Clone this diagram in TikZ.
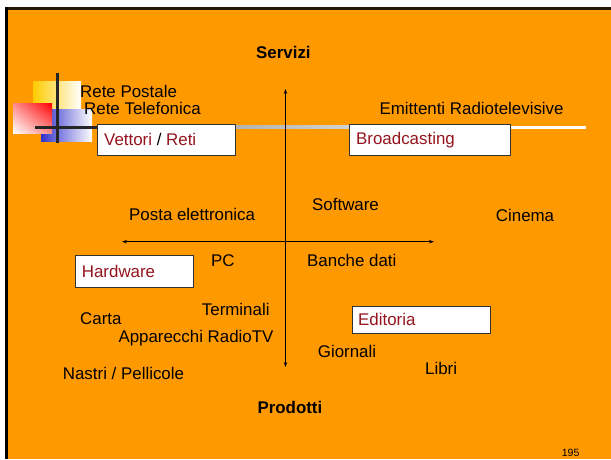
\documentclass[tikz,border=0pt]{standalone}
\usepackage{fontspec}
\setmainfont{Liberation Sans}
\usetikzlibrary{arrows.meta,shadings}
\definecolor{bgorange}{RGB}{255,153,0}
\definecolor{boxred}{RGB}{150,20,30}
\definecolor{logoyellow}{RGB}{255,204,0}
\definecolor{logored}{RGB}{255,0,0}
\definecolor{logoblue}{RGB}{51,51,204}
\definecolor{boxborder}{RGB}{50,50,50}
\begin{document}
\begin{tikzpicture}[x=1pt,y=-1pt,
  lbl/.style={anchor=base west, inner sep=0pt, font=\fontsize{16.9}{20}\selectfont},
  boldlbl/.style={anchor=base west, inner sep=0pt, font=\fontsize{16.9}{20}\selectfont\bfseries},
  boxst/.style={draw=boxborder, line width=1pt, fill=white, anchor=north west, inner sep=0pt},
  boxtxt/.style={lbl, text=boxred},
  axis/.style={line width=0.8pt, {Stealth[length=5pt,width=3.5pt]}-{Stealth[length=5pt,width=3.5pt]}}]
\useasboundingbox (0,0) rectangle (611,459);
% background and frame
\fill[white] (0,0) rectangle (611,459);
\fill[bgorange] (5,7) rectangle (611,459);
\fill[black!85!bgorange] (5,7) rectangle (611,9.5);
\fill[black] (5,7) rectangle (8,459);
% logo
\shade[left color=logoyellow, middle color=logoyellow, right color=white] (33,81) rectangle (81,129);
\shade[left color=logoblue, middle color=logoblue, right color=white] (41,109) rectangle (92,141);
\shade[upper right=logored, lower left=white, upper left=logored!45!white, lower right=logored!45!white] (13,103) rectangle (52,133);
% title rule
\fill[black!85] (35,125.5) rectangle (97,128.5);
\shade[left color=black!45, right color=white] (97,125.5) rectangle (510,128.5);
\fill[white] (510,125.5) rectangle (586,128.5);
\fill[black!85] (55.5,73) rectangle (58.5,143);
% axes
\coordinate (vtop) at (285.5,89);
\coordinate (vbot) at (285.5,367);
\coordinate (hleft) at (122,241.7);
\coordinate (hright) at (434,241.7);
\draw[axis] (vtop) -- (vbot);
\draw[axis] (hleft) -- (hright);
% boxes
\node[boxst, minimum width=138.3pt, minimum height=31pt] (vettori) at (96.7,124) {};
\node[boxst, minimum width=161pt, minimum height=31pt] (broad) at (349,124.3) {};
\node[boxst, minimum width=117.7pt, minimum height=31.4pt] (hard) at (75,255.3) {};
\node[boxst, minimum width=138.3pt, minimum height=27.3pt] (edit) at (351.7,306) {};
\node[boxtxt] (vettoritxt) at (104,145) {Vettori \textcolor{black}{/} Reti};
\node[boxtxt] (broadtxt) at (356,144.3) {Broadcasting};
\node[boxtxt] (hardtxt) at (81.7,277) {Hardware};
\node[boxtxt] (edittxt) at (358,325.7) {Editoria};
% labels
\node[boldlbl] (servizi) at (256,58) {Servizi};
\node[boldlbl] (prodotti) at (257.3,413.3) {Prodotti};
\node[lbl] (postale) at (80,97) {Rete Postale};
\node[lbl] (telef) at (84,114) {Rete Telefonica};
\node[lbl] (emitt) at (379.3,114) {Emittenti Radiotelevisive};
\node[lbl] (posta) at (129,220.7) {Posta elettronica};
\node[lbl] (soft) at (312,210) {Software};
\node[lbl] (cinema) at (495.7,221.7) {Cinema};
\node[lbl] (pc) at (211,266) {PC};
\node[lbl] (banche) at (307,266) {Banche dati};
\node[lbl] (termin) at (201.7,315) {Terminali};
\node[lbl] (carta) at (80,324) {Carta};
\node[lbl] (appar) at (118.3,342.7) {Apparecchi RadioTV};
\node[lbl] (giorn) at (317.7,357.3) {Giornali};
\node[lbl] (libri) at (425,374) {Libri};
\node[lbl] (nastri) at (62.7,379) {Nastri / Pellicole};
\node[anchor=base west, inner sep=0pt, font=\fontsize{10.5}{12}\selectfont] (pagenum) at (561.7,456) {195};
\end{tikzpicture}
\end{document}
